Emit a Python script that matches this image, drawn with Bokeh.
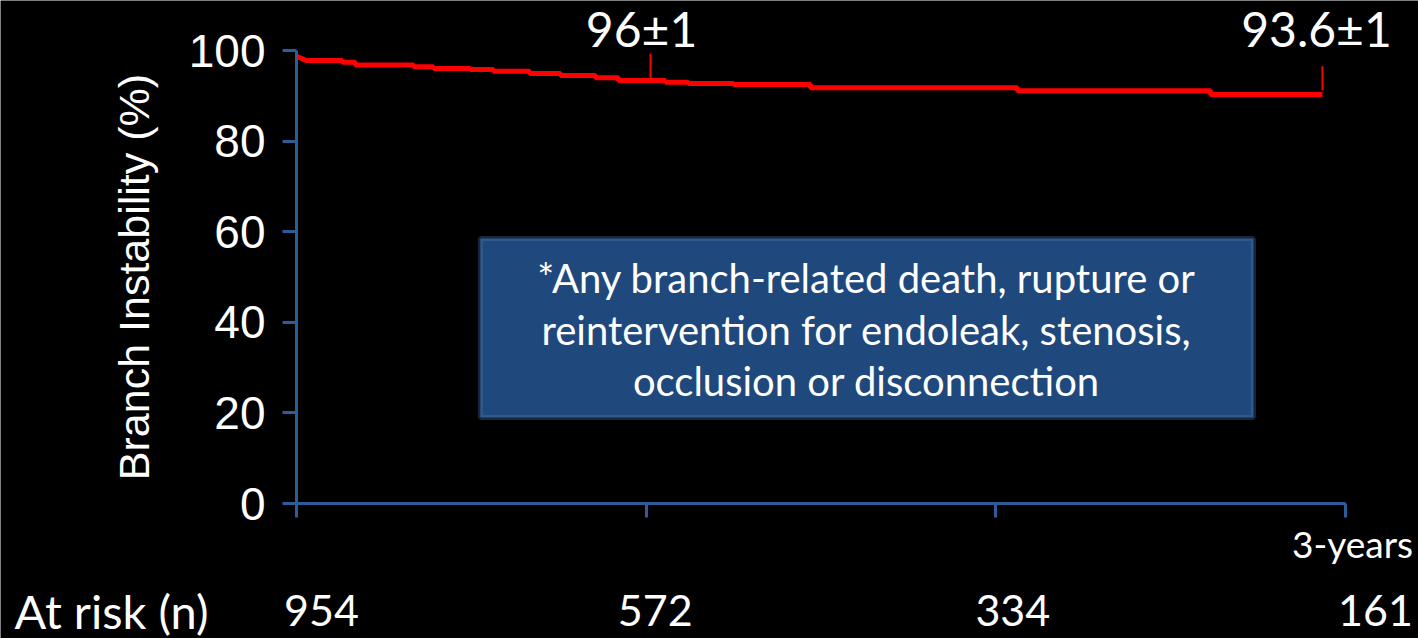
from bokeh.plotting import figure
from bokeh.models import Range1d, Label, BoxAnnotation, FixedTicker, LinearAxis
from bokeh.embed import file_html
from bokeh.resources import INLINE

# Kaplan-Meier style data (months, %)
times = [0.0, 0.34, 1.58, 2.02, 4.02, 4.70, 5.97, 6.76, 8.0, 9.06, 10.26, 11.05,
         12.66, 13.45, 15.0, 17.64, 24.74, 31.37, 35.21]
surv = [98.7, 97.8, 97.4, 96.8, 96.4, 96.0, 95.8, 95.4, 94.9, 94.5, 94.0, 93.4,
        93.0, 92.7, 92.5, 91.8, 91.1, 90.3, 90.3]

x_ticks = [0, 12, 24, 36]
y_ticks = [0, 20, 40, 60, 80, 100]
at_risk = ["954", "572", "334", "161"]
at_risk_offsets = [25, 9, 17, 30]

mark_labels = ["96\u00b11", "93.6\u00b11"]
mark_x = [12.15, 35.21]
mark_top = [99.3, 96.5]
mark_bottom = [93.8, 91.2]
mark_offsets = [-9, -6]

box_lines = ["*Any branch-related death, rupture or",
             "reintervention for endoleak, stenosis,",
             "occlusion or disconnection"]

GILL = "Lato"
AXIS_BLUE = "#2d5c99"

# frame covers the whole canvas; axes are placed at fixed locations
p = figure(width=1418, height=638, output_backend="svg", toolbar_location=None,
           x_range=Range1d(-10.158, 38.505), y_range=Range1d(-29.801, 111.038),
           x_axis_location=None, y_axis_location=None,
           background_fill_color="black", border_fill_color="black",
           min_border=0)
p.outline_line_color = None
p.grid.visible = False

yaxis = LinearAxis(fixed_location=0, bounds=(0, 100), ticker=FixedTicker(ticks=y_ticks))
xaxis = LinearAxis(fixed_location=0, bounds=(0, 36), ticker=FixedTicker(ticks=x_ticks))
xaxis.major_label_overrides = {t: "" for t in x_ticks}
xaxis.major_label_text_font_size = "1px"
for ax in (xaxis, yaxis):
    ax.axis_line_color = AXIS_BLUE
    ax.axis_line_width = 3
    ax.major_tick_line_color = AXIS_BLUE
    ax.major_tick_line_width = 3
    ax.major_tick_out = 14
    ax.major_tick_in = 0
    ax.minor_tick_line_color = None
yaxis.major_label_text_color = "white"
yaxis.major_label_text_font = "Liberation Sans"
yaxis.major_label_text_font_size = "46px"
yaxis.major_label_standoff = 17
yaxis.axis_label = "Branch Instability (%)"
yaxis.axis_label_text_color = "white"
yaxis.axis_label_text_font = "Liberation Sans"
yaxis.axis_label_text_font_size = "43px"
yaxis.axis_label_text_font_style = "normal"
yaxis.axis_label_standoff = 28
p.add_layout(yaxis, "left")
p.add_layout(xaxis, "below")

# note box
p.add_layout(BoxAnnotation(left=6.31, right=32.84, bottom=19.0, top=58.5,
                           fill_color="#1f497d", fill_alpha=1.0,
                           line_color="#5082be", line_width=5, level="underlay"))
for i, txt in enumerate(box_lines):
    p.add_layout(Label(x=19.56, y=49.7 - i * 11.3, text=txt, text_align="center",
                       text_baseline="middle", text_color="white",
                       text_font=GILL, text_font_size="40px"))

# step curve
xs, ys = [times[0]], [surv[0]]
for i in range(1, len(times)):
    if i > 1:
        xs.append(times[i]); ys.append(surv[i - 1])
    xs.append(times[i]); ys.append(surv[i])
p.line(xs, ys, line_color="#ff0000", line_width=5)

# annotation marks
p.segment(x0=mark_x, y0=mark_top, x1=mark_x, y1=mark_bottom,
          line_color="#ff0000", line_width=2)
for txt, mx, off in zip(mark_labels, mark_x, mark_offsets):
    p.add_layout(Label(x=mx, y=104.9, x_offset=off, text=txt, text_align="center",
                       text_baseline="alphabetic", text_color="white",
                       text_font=GILL, text_font_size="48px"))

# x caption
p.add_layout(Label(x=36, y=-8.8, x_offset=7, text="3-years", text_align="center",
                   text_baseline="alphabetic", text_color="white",
                   text_font=GILL, text_font_size="37px"))

# at risk row
p.add_layout(Label(x=0, y=-23.7, x_offset=-282, text="At risk (n)", text_align="left",
                   text_baseline="alphabetic", text_color="white",
                   text_font=GILL, text_font_size="47px"))
for t, n, off in zip(x_ticks, at_risk, at_risk_offsets):
    p.add_layout(Label(x=t, y=-23.7, x_offset=off, text=n, text_align="center",
                       text_baseline="alphabetic", text_color="white",
                       text_font=GILL, text_font_size="43px"))

open("out.html", "w").write(file_html(p, INLINE))
